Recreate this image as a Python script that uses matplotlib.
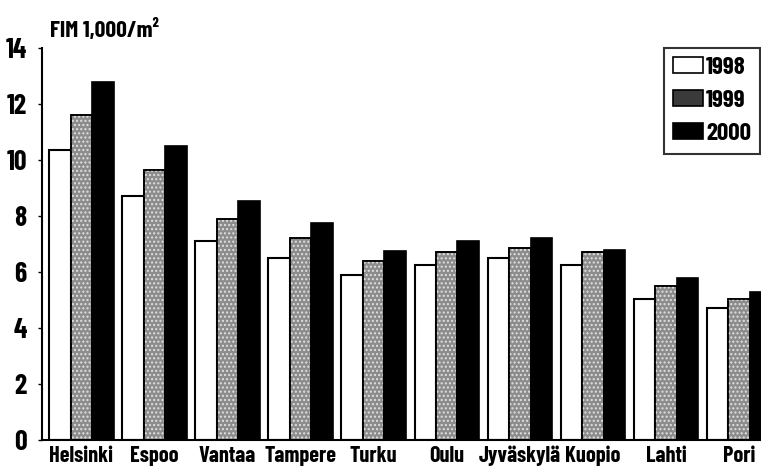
import matplotlib
matplotlib.use("Agg")
import matplotlib.pyplot as plt
import numpy as np
from matplotlib.patches import Patch

cities = ["Helsinki", "Espoo", "Vantaa", "Tampere", "Turku", "Oulu",
          "Jyväskylä", "Kuopio", "Lahti", "Pori"]
v1998 = [10.35, 8.7, 7.1, 6.5, 5.9, 6.25, 6.5, 6.25, 5.05, 4.7]
v1999 = [11.6, 9.65, 7.9, 7.2, 6.4, 6.7, 6.85, 6.7, 5.5, 5.05]
v2000 = [12.8, 10.5, 8.55, 7.75, 6.75, 7.1, 7.2, 6.8, 5.8, 5.3]
years = ["1998", "1999", "2000"]
yticks = [0, 2, 4, 6, 8, 10, 12, 14]
ylabel = "FIM 1,000/m²"

FONT = ["Barlow Condensed", "DejaVu Sans"]
plt.rcParams['font.family'] = FONT
plt.rcParams['font.weight'] = 'bold'

W, H = 761, 473
fig = plt.figure(figsize=(W / 100, H / 100), dpi=100)
ax = fig.add_axes([42 / W, 33 / H, (W - 42) / W, (440 - 48) / H])

x = np.arange(len(cities)) * 3.4
w = 1.0
ax.bar(x - w, v1998, width=w, facecolor='white', edgecolor='black', linewidth=1.5)
ax.bar(x, v1999, width=w, facecolor='#8c8c8c', edgecolor='black', linewidth=1.2)
ax.bar(x, v1999, width=w, facecolor='none', edgecolor='#e0e0e0', hatch='....', linewidth=0)
ax.bar(x, v1999, width=w, facecolor='none', edgecolor='black', linewidth=1.2)
ax.bar(x + w, v2000, width=w, facecolor='black', edgecolor='black', linewidth=1.2)

ax.set_xlim(-1.83, 31.62)
ax.set_ylim(0, 14)
ax.set_yticks(yticks)
ax.set_yticklabels([str(t) for t in yticks], fontsize=20, fontweight='bold')
ax.set_xticks(x)
ax.set_xticklabels(cities, fontsize=16, fontweight='bold')
ax.tick_params(axis='x', length=0, pad=4)
ax.tick_params(axis='y', length=3, width=1, pad=8)
for s in ['top', 'right']:
    ax.spines[s].set_visible(False)
ax.spines['left'].set_linewidth(1.5)
ax.spines['bottom'].set_linewidth(1.5)

fig.text(50 / W, 1 - 30 / H, ylabel, fontsize=17, fontweight='bold', va='center', ha='left')

handles = [
    Patch(facecolor='white', edgecolor='black', linewidth=1.2),
    Patch(facecolor='#3a3a3a', edgecolor='black', linewidth=1.2),
    Patch(facecolor='black', edgecolor='black', linewidth=1.2),
]
leg = fig.legend(handles, years, loc='upper right', bbox_to_anchor=(760 / W, 1 - 48 / H),
                 bbox_transform=fig.transFigure,
                 fontsize=18, frameon=True, fancybox=False, handlelength=1.2,
                 handleheight=0.6, handletextpad=0.15, borderpad=0.35, labelspacing=0.45,
                 borderaxespad=0)
leg.get_frame().set_edgecolor('black')
leg.get_frame().set_linewidth(1.5)
for t in leg.get_texts():
    t.set_fontweight('bold')

fig.savefig("out.png", dpi=100)
